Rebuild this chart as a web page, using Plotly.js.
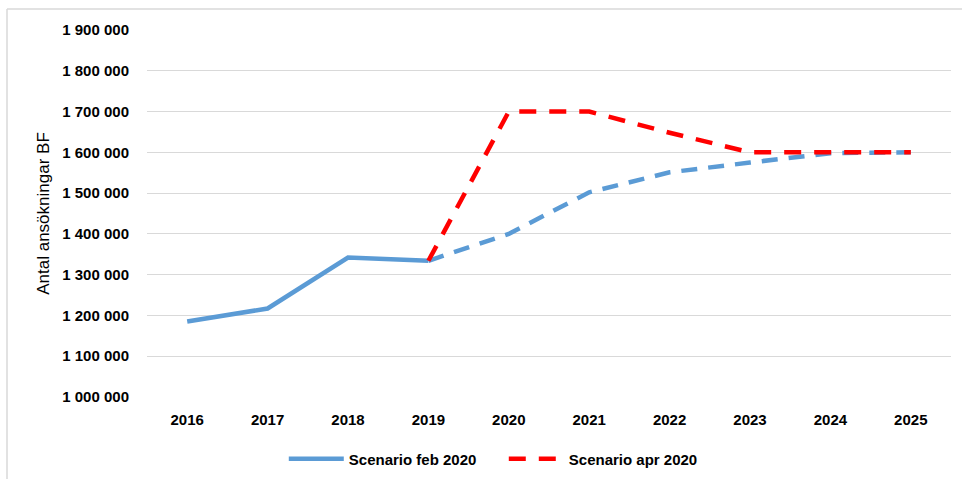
<!DOCTYPE html>
<html>
<head>
<meta charset="utf-8">
<script src="https://cdn.plot.ly/plotly-3.0.1.min.js"></script>
<style>
html,body{margin:0;padding:0;background:#fff;}
#chart{width:962px;height:479px;}
</style>
</head>
<body>
<div id="chart"></div>
<script>
const years = ['2016','2017','2018','2019','2020','2021','2022','2023','2024','2025'];
const febActualYears = ['2016','2017','2018','2019'];
const febActual = [1185000, 1217000, 1342000, 1334000];
const febForecastYears = ['2019','2020','2021','2022','2023','2024','2025'];
const febForecast = [1334000, 1400000, 1502000, 1551000, 1575000, 1598000, 1600000];
const aprYears = ['2019','2020','2021','2022','2023','2024','2025'];
const aprValues = [1334000, 1700000, 1700000, 1648000, 1600000, 1600000, 1600000];
const yTicks = [1000000,1100000,1200000,1300000,1400000,1500000,1600000,1700000,1800000,1900000];
const yTitle = 'Antal ansökningar BF';
const seriesNames = ['Scenario feb 2020', 'Scenario apr 2020'];

const blue = '#5B9BD5';
const red = '#FF0000';
const font = 'Liberation Sans, Arial, sans-serif';

const traces = [
  {x: febActualYears, y: febActual, type: 'scatter', mode: 'lines', name: seriesNames[0],
   line: {color: blue, width: 4.5}, showlegend: true},
  {x: febForecastYears, y: febForecast, type: 'scatter', mode: 'lines', name: seriesNames[0] + ' prognos',
   line: {color: blue, width: 4.5, dash: '16px,11px'}, showlegend: false},
  {x: aprYears, y: aprValues, type: 'scatter', mode: 'lines', name: seriesNames[1],
   line: {color: red, width: 4.5, dash: '17px,13px'}, showlegend: true}
];

const layout = {
  width: 962, height: 479,
  margin: {l: 147, r: 11, t: 30, b: 82, autoexpand: false},
  paper_bgcolor: '#fff', plot_bgcolor: '#fff',
  separators: ', ',
  showlegend: true,
  legend: {orientation: 'h', xref: 'container', yref: 'container', x: 0.295, xanchor: 'left', y: 20/479, yanchor: 'middle',
    font: {family: font, size: 15, color: '#000', weight: 'bold'}, itemwidth: 55, entrywidth: 150, entrywidthmode: 'pixels', traceorder: 'normal'},
  xaxis: {type: 'category', categoryorder: 'array', categoryarray: years,
    range: [-0.5, 9.5], showgrid: false, zeroline: false, showline: false, ticks: '',
    ticklabelstandoff: 12, tickfont: {family: font, size: 15, color: '#000', weight: 'bold'}, fixedrange: true},
  yaxis: {range: [1000000, 1900000], tickvals: yTicks, tickformat: ',d',
    showgrid: true, gridcolor: '#d9d9d9', gridwidth: 1, zeroline: false, showline: false, ticks: '',
    ticklabelstandoff: 17, tickfont: {family: font, size: 15, color: '#000', weight: 'bold'},
    title: {text: yTitle, font: {family: font, size: 17, color: '#000'}, standoff: 8}, fixedrange: true},
  shapes: [
    {type: 'line', xref: 'paper', yref: 'paper', x0: -140/804, x1: -140/804, y0: 1 + 21/367, y1: -1, line: {color: '#d9d9d9', width: 1.5}},
    {type: 'line', xref: 'paper', yref: 'paper', x0: -140/804, x1: 2, y0: 1 + 21/367, y1: 1 + 21/367, line: {color: '#d9d9d9', width: 1.5}}
  ]
};

Plotly.newPlot('chart', traces, layout, {displayModeBar: false, staticPlot: true});
</script>
</body>
</html>
